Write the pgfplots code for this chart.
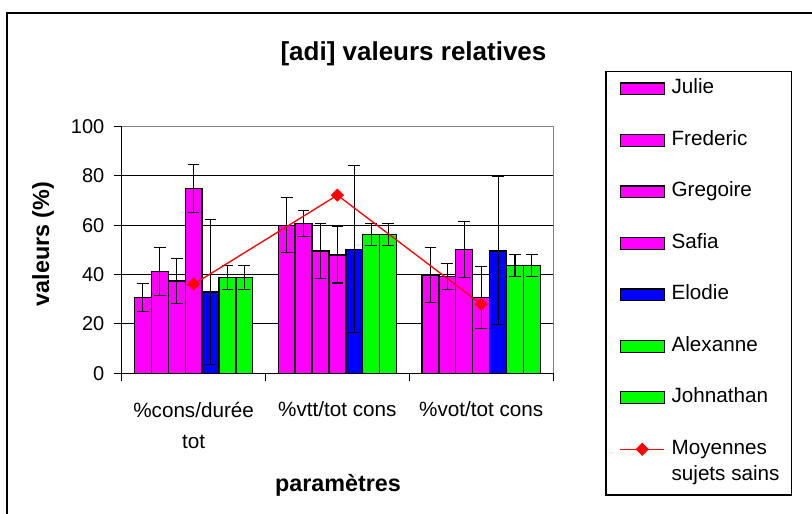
\documentclass[border=0pt]{standalone}
\usepackage{fontspec}
\setmainfont{Liberation Sans}
\usepackage{pgfplots}
\pgfplotsset{compat=1.18}

\definecolor{xlmag}{RGB}{255,0,255}
\definecolor{xlblue}{RGB}{0,0,255}
\definecolor{xlgreen}{RGB}{0,255,0}
\definecolor{xlred}{RGB}{255,0,0}
\definecolor{xlgray}{RGB}{128,128,128}

\pgfplotsset{
  barleg/.style={legend image code/.code={\draw[##1, line width=0.9pt] (0pt,-4.4pt) rectangle (33pt,4.4pt);}},
  lineleg/.style={legend image code/.code={\draw[mark repeat=2,mark phase=2,##1]
    plot coordinates {(0pt,0pt) (16.5pt,0pt) (33pt,0pt)};}},
  errb/.style={
    error bars/y dir=both, error bars/y explicit,
    error bars/error bar style={black,line width=0.8pt},
    error bars/error mark options={rotate=90,mark size=4.4pt,black,line width=0.8pt}},
}

\begin{document}
\begin{tikzpicture}
\path[use as bounding box] (0,0) rectangle (609pt,384.75pt);
\begin{axis}[
  at={(91.3pt,104.8pt)}, anchor=south west,
  scale only axis, width=323.5pt, height=185pt,
  ybar=0pt, bar width=0.1176,
  xmin=-0.5, xmax=2.5, ymin=0, ymax=100,
  clip=false,
  axis x line*=bottom, axis y line*=left,
  axis line style={-, black, line width=0.8pt},
  xtick={-0.5,0.5,1.5,2.5}, xticklabels={{},{},{},{}},
  extra x ticks={0,1,2},
  extra x tick labels={{\%cons/durée\\tot},{\%vtt/tot cons},{\%vot/tot cons}},
  extra x tick style={major tick length=0pt,
    tick label style={align=center, font=\fontsize{15.5}{23.8}\selectfont, yshift=-18pt}},
  ytick={0,20,...,100},
  ymajorgrids, grid style={black, line width=0.8pt},
  tick align=outside, major tick length=6pt,
  tick style={black, line width=0.8pt},
  /pgf/number format/assume math mode=true,
  yticklabel style={font=\fontsize{15}{18}\selectfont, xshift=-3.5pt},
  title={{[adi]} valeurs relatives},
  title style={at={(axis description cs:0.6764,1.262)}, anchor=center,
    font=\fontsize{19.5}{23}\selectfont\bfseries},
  xlabel={paramètres},
  xlabel style={at={(axis description cs:0.5014,-0.453)}, anchor=center,
    font=\fontsize{17.5}{21}\selectfont\bfseries},
  ylabel={valeurs (\%)},
  ylabel style={at={(axis description cs:-0.1825,0.524)}, anchor=center,
    font=\fontsize{17.5}{21}\selectfont\bfseries},
  legend style={draw=none, fill=none, at={(axis description cs:1.1536,1.193)},
    anchor=north west, inner sep=0pt, row sep=24.1pt, column sep=5pt,
    nodes={inner sep=0pt, text height=11pt, text depth=3.5pt},
    font=\fontsize{15.5}{20}\selectfont},
  legend cell align=left,
]
% Julie
\addplot[fill=xlmag, draw=black, line width=1pt, barleg, errb]
  coordinates {(0,30.8) +- (0,5.7) (1,60.0) +- (0,11.2) (2,39.9) +- (0,11.2)};
% Frederic
\addplot[fill=xlmag, draw=black, line width=1pt, barleg, errb]
  coordinates {(0,41.2) +- (0,9.8) (1,60.7) +- (0,5.3) (2,39.2) +- (0,5.2)};
% Gregoire
\addplot[fill=xlmag, draw=black, line width=1pt, barleg, errb]
  coordinates {(0,37.4) +- (0,9.3) (1,49.6) +- (0,11.2) (2,50.3) +- (0,11.3)};
% Safia
\addplot[fill=xlmag, draw=black, line width=1pt, barleg, errb]
  coordinates {(0,75.0) +- (0,9.8) (1,48.0) +- (0,11.4) (2,30.7) +- (0,12.7)};
% Elodie
\addplot[fill=xlblue, draw=black, line width=1pt, barleg, errb]
  coordinates {(0,33.0) +- (0,29.3) (1,50.3) +- (0,33.8) (2,49.6) +- (0,30.0)};
% Alexanne
\addplot[fill=xlgreen, draw=black, line width=1pt, barleg, errb]
  coordinates {(0,38.9) +- (0,4.8) (1,56.2) +- (0,4.5) (2,43.6) +- (0,4.4)};
% Johnathan
\addplot[fill=xlgreen, draw=black, line width=1pt, barleg, errb]
  coordinates {(0,38.9) +- (0,4.8) (1,56.2) +- (0,4.5) (2,43.6) +- (0,4.4)};
% moyennes
\addplot[sharp plot, bar shift=0pt, xlred, line width=1pt,
  mark=square*, mark size=3pt, mark options={rotate=45, fill=xlred, solid},
  lineleg]
  coordinates {(0,36.1) (1,72.2) (2,28.0)};
\legend{Julie,Frederic,Gregoire,Safia,Elodie,Alexanne,Johnathan,
  {\begin{tabular}[t]{@{}l@{}}Moyennes\\sujets sains\end{tabular}}}
\draw[xlgray, line width=0.8pt] (rel axis cs:0,1) -- (rel axis cs:1,1) -- (rel axis cs:1,0);
\end{axis}
\draw[line width=1.5pt] (5.5pt,-10pt) -- (5.5pt,375.2pt) -- (620pt,375.2pt);
\draw[line width=0.8pt] (454.5pt,13.5pt) rectangle (593.8pt,331.0pt);
\end{tikzpicture}
\end{document}
